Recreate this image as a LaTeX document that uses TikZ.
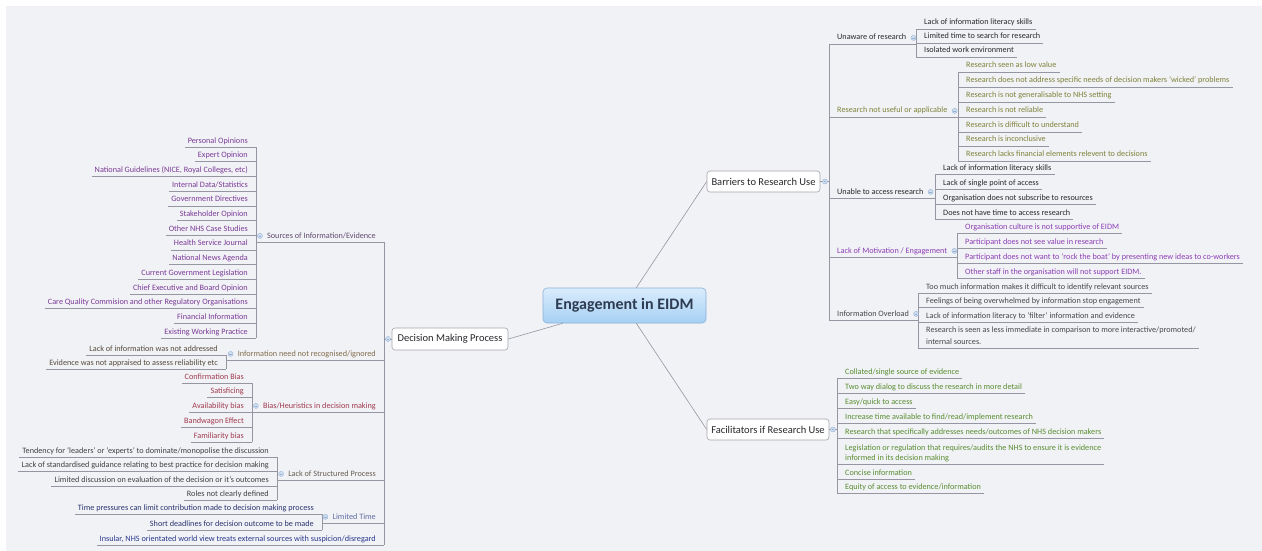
\documentclass[tikz,border=0pt]{standalone}
\usepackage{fontspec}
\setmainfont{Carlito}
\newcommand\lffont{\fontsize{8.2}{10}\selectfont}
\definecolor{bg}{RGB}{241,242,246}
\definecolor{linegray}{RGB}{150,150,162}
\definecolor{boxgray}{RGB}{165,165,175}
\definecolor{cTop}{RGB}{218,236,252}
\definecolor{cBot}{RGB}{166,208,244}
\definecolor{cBorder}{RGB}{140,176,214}
\definecolor{cTitle}{RGB}{45,60,80}
\definecolor{iconfill}{RGB}{208,222,240}
\definecolor{iconline}{RGB}{150,178,212}
\definecolor{cDark}{RGB}{40,40,45}
\definecolor{cOver}{RGB}{70,70,75}
\definecolor{cOlive}{RGB}{128,130,58}
\definecolor{cMot}{RGB}{140,62,180}
\definecolor{cGreen}{RGB}{88,140,48}
\definecolor{cSrc}{RGB}{122,58,150}
\definecolor{cSrcHead}{RGB}{95,75,110}
\definecolor{cNeedHead}{RGB}{130,108,75}
\definecolor{cNeed}{RGB}{85,75,60}
\definecolor{cBias}{RGB}{160,58,78}
\definecolor{cStructHead}{RGB}{105,92,80}
\definecolor{cStruct}{RGB}{65,65,65}
\definecolor{cTimeHead}{RGB}{95,108,160}
\definecolor{cTime}{RGB}{40,52,110}
\definecolor{cInsular}{RGB}{40,55,140}
\begin{document}
\begin{tikzpicture}[x=1pt,y=-1pt,
  conn/.style={draw=linegray, line width=0.6pt},
  mainline/.style={draw=linegray, line width=0.6pt},
  rootbox/.style={draw=cBorder, line width=0.6pt, rounded corners=4pt, top color=cTop, bottom color=cBot,
    minimum width=163pt, minimum height=35pt, inner sep=0pt, text=cTitle,
    font=\fontsize{16}{19}\selectfont\bfseries},
  branch/.style={draw=boxgray, line width=0.6pt, fill=white, rounded corners=3pt, inner sep=0pt,
    text=cDark, font=\fontsize{10.5}{12}\selectfont},
  rl/.style={anchor=south west, inner xsep=3pt, inner ysep=1.8pt, text height=6.2pt, text depth=2pt,
    font=\lffont, execute at begin node=\hspace*{5pt}},
  ll/.style={anchor=south east, inner xsep=3pt, inner ysep=1.8pt, text height=6.2pt, text depth=2pt,
    font=\lffont, execute at end node=\hspace*{5pt}},
  icon/.style={circle, inner sep=0pt, minimum size=5pt, fill=iconfill, draw=iconline, line width=0.4pt,
    path picture={\draw[iconline, line width=0.5pt]
      ([xshift=1.2pt]path picture bounding box.west) -- ([xshift=-1.2pt]path picture bounding box.east);}}
]
\useasboundingbox (0,0) rectangle (1262,551);
\fill[white] (0,0) rectangle (1262,551);
\fill[bg] (6,6) rectangle (1262,551);

% ---------- central topic and main branches ----------
\node[rootbox] (root) at (624.5,305.5) {Engagement in EIDM};
\node[branch, minimum width=113pt, minimum height=21pt] (bar) at (763.5,181.5) {Barriers to Research Use};
\node[branch, minimum width=122pt, minimum height=21pt] (fac) at (768,429.5) {Facilitators if Research Use};
\node[branch, minimum width=116pt, minimum height=22pt] (dmp) at (450,339) {Decision Making Process};
\draw[mainline] (root) -- (bar.west);
\draw[mainline] (root) -- (fac.west);
\draw[mainline] (root) -- (dmp.east);

% ---------- Barriers to Research Use ----------
\node[rl, text=cDark]  (u) at (829,44)  {Unaware of research};
\node[rl, text=cOlive] (r) at (829,117) {Research not useful or applicable};
\node[rl, text=cDark]  (a) at (829,198) {Unable to access research};
\node[rl, text=cMot]   (m) at (829,257) {Lack of Motivation / Engagement};
\node[rl, text=cOver]  (o) at (829,320) {Information Overload};

\node[rl, text=cDark] (u1) at (916,29) {Lack of information literacy skills};
\node[rl, text=cDark] (u2) at (916,43) {Limited time to search for research};
\node[rl, text=cDark] (u3) at (916,57) {Isolated work environment};

\node[rl, text=cOlive] (r1) at (958,72)  {Research seen as low value};
\node[rl, text=cOlive] (r2) at (958,87)  {Research does not address specific needs of decision makers `wicked' problems};
\node[rl, text=cOlive] (r3) at (958,102) {Research is not generalisable to NHS setting};
\node[rl, text=cOlive] (r4) at (958,117) {Research is not reliable};
\node[rl, text=cOlive] (r5) at (958,132) {Research is difficult to understand};
\node[rl, text=cOlive] (r6) at (958,146) {Research is inconclusive};
\node[rl, text=cOlive] (r7) at (958,161) {Research lacks financial elements relevent to decisions};

\node[rl, text=cDark] (a1) at (935,174) {Lack of information literacy skills};
\node[rl, text=cDark] (a2) at (935,189) {Lack of single point of access};
\node[rl, text=cDark] (a3) at (935,204) {Organisation does not subscribe to resources};
\node[rl, text=cDark] (a4) at (935,219) {Does not have time to access research};

\node[rl, text=cMot] (m1) at (957,233) {Organisation culture is not supportive of EIDM};
\node[rl, text=cMot] (m2) at (957,248) {Participant does not see value in research};
\node[rl, text=cMot] (m3) at (957,263) {Participant does not want to `rock the boat' by presenting new ideas to co-workers};
\node[rl, text=cMot] (m4) at (957,278) {Other staff in the organisation will not support EIDM.};

\node[rl, text=cOver] (o1) at (918,293) {Too much information makes it difficult to identify relevant sources};
\node[rl, text=cOver] (o2) at (918,307) {Feelings of being overwhelmed by information stop engagement};
\node[rl, text=cOver] (o3) at (918,322) {Lack of information literacy to `filter' information and evidence};
\node[rl, text=cOver] (o4) at (918,348) {{\def\arraystretch{1.2}\begin{tabular}[b]{@{}l@{}}Research is seen as less immediate in comparison to more interactive/promoted/\\ internal sources.\end{tabular}}};

% ---------- Facilitators ----------
\node[rl, text=cGreen] (f1) at (837,378) {Collated/single source of evidence};
\node[rl, text=cGreen] (f2) at (837,393) {Two way dialog to discuss the research in more detail};
\node[rl, text=cGreen] (f3) at (837,408) {Easy/quick to access};
\node[rl, text=cGreen] (f4) at (837,423) {Increase time available to find/read/implement research};
\node[rl, text=cGreen] (f5) at (837,438) {Research that specifically addresses needs/outcomes of NHS decision makers};
\node[rl, text=cGreen] (f6) at (837,464) {{\def\arraystretch{1.0}\begin{tabular}[b]{@{}l@{}}Legislation or regulation that requires/audits the NHS to ensure it is evidence\\ informed in its decision making\end{tabular}}};
\node[rl, text=cGreen] (f7) at (837,479) {Concise information};
\node[rl, text=cGreen] (f8) at (837,493) {Equity of access to evidence/information};

% ---------- Decision Making Process ----------
\node[ll, text=cSrcHead]    (s) at (384,242) {Sources of Information/Evidence};
\node[ll, text=cNeedHead]   (i) at (384,360) {Information need not recognised/ignored};
\node[ll, text=cBias]       (b) at (384,412) {Bias/Heuristics in decision making};
\node[ll, text=cStructHead] (l) at (384,480) {Lack of Structured Process};
\node[ll, text=cTimeHead]   (t) at (384,523) {Limited Time};
\node[ll, text=cInsular]    (n) at (384,545) {Insular, NHS orientated world view treats external sources with suspicion/disregard};

\node[ll, text=cSrc] (s1)  at (256,147.0) {Personal Opinions};
\node[ll, text=cSrc] (s2)  at (256,161.7) {Expert Opinion};
\node[ll, text=cSrc] (s3)  at (256,176.4) {National Guidelines (NICE, Royal Colleges, etc)};
\node[ll, text=cSrc] (s4)  at (256,191.1) {Internal Data/Statistics};
\node[ll, text=cSrc] (s5)  at (256,205.8) {Government Directives};
\node[ll, text=cSrc] (s6)  at (256,220.5) {Stakeholder Opinion};
\node[ll, text=cSrc] (s7)  at (256,235.2) {Other NHS Case Studies};
\node[ll, text=cSrc] (s8)  at (256,249.9) {Health Service Journal};
\node[ll, text=cSrc] (s9)  at (256,264.6) {National News Agenda};
\node[ll, text=cSrc] (s10) at (256,279.3) {Current Government Legislation};
\node[ll, text=cSrc] (s11) at (256,294.0) {Chief Executive and Board Opinion};
\node[ll, text=cSrc] (s12) at (256,308.7) {Care Quality Commision and other Regulatory Organisations};
\node[ll, text=cSrc] (s13) at (256,323.4) {Financial Information};
\node[ll, text=cSrc] (s14) at (256,338.1) {Existing Working Practice};

\node[ll, text=cNeed] (i1) at (226,355) {Lack of information was not addressed};
\node[ll, text=cNeed] (i2) at (226,369) {Evidence was not appraised to assess reliability etc};

\node[ll, text=cBias] (b1) at (252,383) {Confirmation Bias};
\node[ll, text=cBias] (b2) at (252,397) {Satisficing};
\node[ll, text=cBias] (b3) at (252,412) {Availability bias};
\node[ll, text=cBias] (b4) at (252,427) {Bandwagon Effect};
\node[ll, text=cBias] (b5) at (252,442) {Familiarity bias};

\node[ll, text=cStruct] (l1) at (277,457) {Tendency for `leaders' or `experts' to dominate/monopolise the discussion};
\node[ll, text=cStruct] (l2) at (277,471) {Lack of standardised guidance relating to best practice for decision making};
\node[ll, text=cStruct] (l3) at (277,486) {Limited discussion on evaluation of the decision or it's outcomes};
\node[ll, text=cStruct] (l4) at (277,500) {Roles not clearly defined};

\node[ll, text=cTime] (t1) at (322,514) {Time pressures can limit contribution made to decision making process};
\node[ll, text=cTime] (t2) at (322,530) {Short deadlines for decision outcome to be made};

% ---------- underlines of all topics ----------
\foreach \n in {u,r,a,m,o,u1,u2,u3,r1,r2,r3,r4,r5,r6,r7,a1,a2,a3,a4,m1,m2,m3,m4,o1,o2,o3,o4,
  f1,f2,f3,f4,f5,f6,f7,f8,s,i,b,l,t,n,s1,s2,s3,s4,s5,s6,s7,s8,s9,s10,s11,s12,s13,s14,
  i1,i2,b1,b2,b3,b4,b5,l1,l2,l3,l4,t1,t2}
  \draw[conn] (\n.south west) -- (\n.south east);

% ---------- tree connectors ----------
\draw[conn] (bar.east) -| (u.south west);
\draw[conn] (bar.east) -| (o.south west);
\draw[conn] (u.south east) -| (u1.south west);
\draw[conn] (u.south east) -| (u3.south west);
\draw[conn] (r.south east) -| (r1.south west);
\draw[conn] (r.south east) -| (r7.south west);
\draw[conn] (a.south east) -| (a1.south west);
\draw[conn] (a.south east) -| (a4.south west);
\draw[conn] (m.south east) -| (m1.south west);
\draw[conn] (m.south east) -| (m4.south west);
\draw[conn] (o.south east) -| (o1.south west);
\draw[conn] (o.south east) -| (o4.south west);
\draw[conn] (fac.east) -| (f1.south west);
\draw[conn] (fac.east) -| (f8.south west);

\draw[conn] (dmp.west) -| (s.south east);
\draw[conn] (dmp.west) -| (n.south east);
\draw[conn] (s.south west) -| (s1.south east);
\draw[conn] (s.south west) -| (s14.south east);
\draw[conn] (i.south west) -| (i1.south east);
\draw[conn] (i.south west) -| (i2.south east);
\draw[conn] (b.south west) -| (b1.south east);
\draw[conn] (b.south west) -| (b5.south east);
\draw[conn] (l.south west) -| (l1.south east);
\draw[conn] (l.south west) -| (l4.south east);
\draw[conn] (t.south west) -| (t1.south east);
\draw[conn] (t.south west) -| (t2.south east);

% ---------- collapse buttons ----------
\node[icon] (ibar) at (825,181.5) {};
\node[icon] (ifac) at (833,429.5) {};
\node[icon] (idmp) at (388,339) {};
\foreach \n in {u,r,a,m,o} \node[icon] (i\n) at ([xshift=4pt]\n.east) {};
\foreach \n in {s,i,b,l,t} \node[icon] (i\n) at ([xshift=-4pt]\n.west) {};
\end{tikzpicture}
\end{document}
